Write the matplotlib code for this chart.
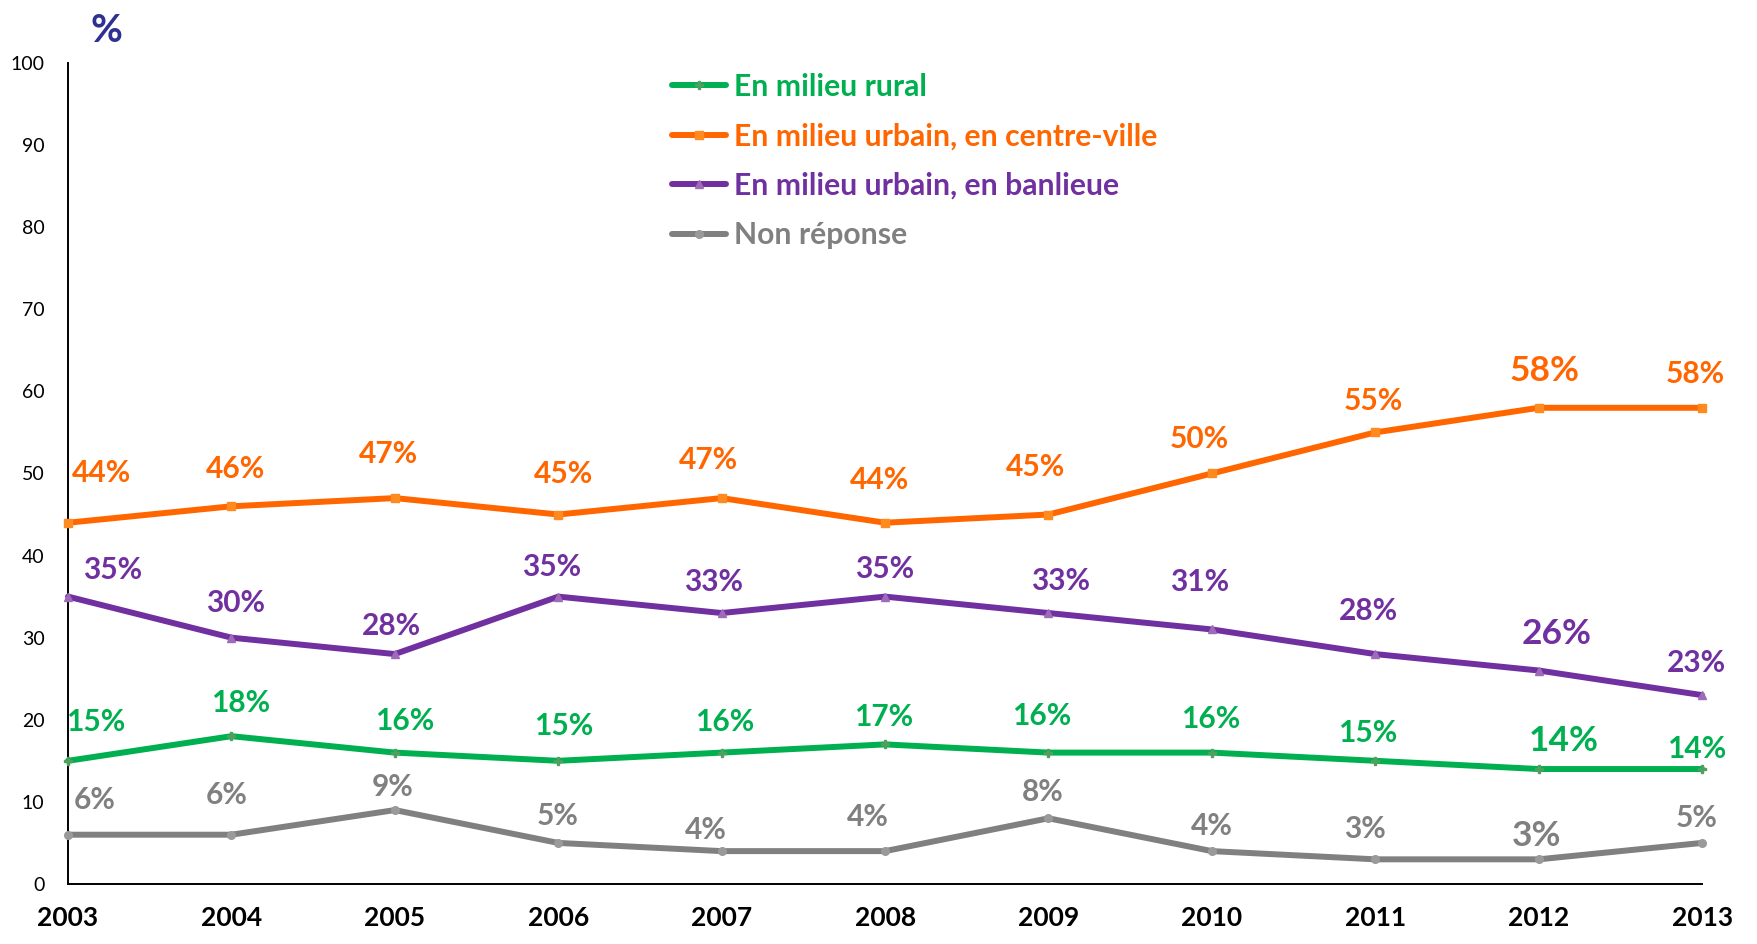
import matplotlib
matplotlib.use("Agg")
import matplotlib.pyplot as plt

plt.rcParams['font.family'] = ['Lato', 'DejaVu Sans']

years = [2003, 2004, 2005, 2006, 2007, 2008, 2009, 2010, 2011, 2012, 2013]
rural = [15, 18, 16, 15, 16, 17, 16, 16, 15, 14, 14]
centre = [44, 46, 47, 45, 47, 44, 45, 50, 55, 58, 58]
banlieue = [35, 30, 28, 35, 33, 35, 33, 31, 28, 26, 23]
nonrep = [6, 6, 9, 5, 4, 4, 8, 4, 3, 3, 5]
series_names = ["En milieu rural", "En milieu urbain, en centre-ville",
                "En milieu urbain, en banlieue", "Non réponse"]
yticks = [0, 10, 20, 30, 40, 50, 60, 70, 80, 90, 100]

# label offsets (pixels, on the shrunk reference) – layout only
off_rural = [(25, 35), (8, 30), (9, 28), (5, 31), (3, 27), (-1, 24), (-6, 33), (-1, 30), (-7, 25), (22, 25), (-5, 18)]
off_centre = [(30, 44), (4, 33), (-6, 39), (5, 36), (-12, 34), (-5, 38), (-12, 42), (-11, 31), (-2, 28), (5, 33), (-6, 30)]
off_banl = [(40, 24), (4, 31), (-3, 25), (-6, 26), (-7, 28), (0, 25), (11, 29), (-11, 42), (-6, 38), (16, 33), (-5, 29)]
off_nonrep = [(24, 31), (-4, 35), (-2, 21), (-1, 24), (-14, 19), (-15, 30), (-5, 23), (0, 22), (-9, 27), (-2, 21), (-5, 22)]

colors = ["#00B050", "#FF6600", "#7030A0", "#808080"]
mcolors = ["#4EA05E", "#FF8A1F", "#9E6BB8", "#9A9A9A"]
markers = ["P", "s", "^", "o"]

fig = plt.figure(figsize=(17.58, 9.44), dpi=100)
ax = fig.add_axes([0.0387, 0.0636, 0.9295, 0.8697])

data = [rural, centre, banlieue, nonrep]
offs = [off_rural, off_centre, off_banl, off_nonrep]
scale = 1758 / 1568
for vals, name, c, mc, mk, off in zip(data, series_names, colors, mcolors, markers, offs):
    ax.plot(years, vals, color=c, lw=4.3, marker=mk, markersize=5.5,
            markerfacecolor=mc, markeredgecolor=mc, label=name,
            solid_capstyle='round', zorder=3)
    for i, (x, v) in enumerate(zip(years, vals)):
        dx, dy = off[i]
        fs = 25.5 if x == 2012 else 21.5
        ax.annotate(f"{v}%", (x, v), xytext=(dx * scale, dy * scale),
                    textcoords='offset pixels', ha='center', va='center',
                    color=c, fontsize=fs, fontweight='bold', zorder=4)

ax.set_xlim(2003, 2013)
ax.set_ylim(0, 100)
ax.set_yticks(yticks)
ax.set_yticklabels([str(t) for t in yticks], fontsize=14)
ax.set_xticks(years)
ax.set_xticklabels([str(y) for y in years], fontsize=19, fontweight='bold')
ax.tick_params(axis='both', length=0)
ax.tick_params(axis='y', pad=17)
ax.tick_params(axis='x', pad=16)
for s in ['top', 'right']:
    ax.spines[s].set_visible(False)
for s in ['left', 'bottom']:
    ax.spines[s].set_linewidth(1.4)
    ax.spines[s].set_color('black')
for ln in ax.lines:
    ln.set_clip_on(False)

fig.text(106 / 1758, 1 - 30 / 944, "%", fontsize=28, fontweight='bold',
         color="#2E3192", ha='center', va='center')

leg = ax.legend(loc='upper left', bbox_to_anchor=(672 / 1758, 1 - 73 / 944),
                bbox_transform=fig.transFigure, frameon=False,
                prop={'weight': 'bold', 'size': 21.7}, handlelength=1.8,
                handletextpad=0.25, labelspacing=0.71, borderpad=0,
                borderaxespad=0, numpoints=1)
for t, c in zip(leg.get_texts(), colors):
    t.set_color(c)

fig.savefig("out.png", dpi=100)
